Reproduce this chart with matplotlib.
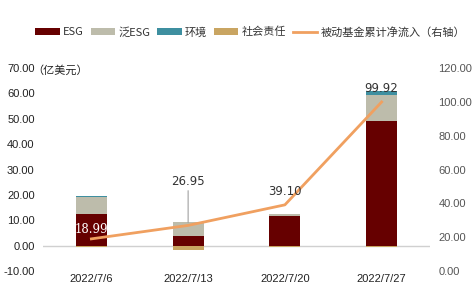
import matplotlib
matplotlib.use("Agg")
import matplotlib.pyplot as plt
import numpy as np

plt.rcParams['font.family'] = ['Noto Sans CJK SC', 'DejaVu Sans']

dates = ["2022/7/6", "2022/7/13", "2022/7/20", "2022/7/27"]
esg = [12.4, 3.8, 11.7, 49.0]
pan_esg = [6.7, 5.5, 0.6, 10.5]
env = [0.4, -0.3, 0.1, 1.5]
social = [-0.5, -1.3, -0.5, -0.5]
cum_flow = [18.99, 26.95, 39.10, 99.92]

c_esg = "#660000"
c_pan = "#BDBCAB"
c_env = "#3E8FA0"
c_soc = "#C9A562"
c_line = "#F0A060"

tick_font = "Liberation Sans"

fig = plt.figure(figsize=(4.75, 2.89), dpi=100)
ax = fig.add_axes([43/475, 1-271/289, (430-43)/475, (271-68)/289])
x = np.arange(len(dates))
w = 0.32

esg_a = np.array(esg); pan_a = np.array(pan_esg); env_a = np.array(env); soc_a = np.array(social)
pos_base = np.zeros(4); neg_base = np.zeros(4)
handles = []
for vals, col, lab in [(esg_a, c_esg, "ESG"), (pan_a, c_pan, "泛ESG"), (env_a, c_env, "环境"), (soc_a, c_soc, "社会责任")]:
    bottoms = np.where(vals >= 0, pos_base, neg_base)
    b = ax.bar(x, vals, w, bottom=bottoms, color=col, label=lab, zorder=2)
    handles.append(b)
    pos_base = pos_base + np.where(vals >= 0, vals, 0)
    neg_base = neg_base + np.where(vals < 0, vals, 0)

ax.set_ylim(-10, 70)
ax.set_yticks(np.arange(-10, 71, 10))
ax.set_yticklabels([f"{v:.2f}" for v in np.arange(-10, 71, 10)], fontsize=8, color="#222222", family=tick_font)
ax.set_xlim(-0.5, 3.5)
ax.set_xticks(x)
ax.set_xticklabels(dates, fontsize=8, color="#222222", family=tick_font)
ax.axhline(0, color="#D0D0D0", lw=1, zorder=1)
for s in ax.spines.values():
    s.set_visible(False)
ax.tick_params(length=0, pad=6)
ax.tick_params(axis='x', pad=2)

ax2 = ax.twinx()
ax2.set_ylim(0, 120)
ax2.set_yticks(np.arange(0, 121, 20))
ax2.set_yticklabels([f"{v:.2f}" for v in np.arange(0, 121, 20)], fontsize=8, color="#555555", family=tick_font)
for s in ax2.spines.values():
    s.set_visible(False)
ax2.tick_params(length=0, pad=6)
ln, = ax2.plot(x, cum_flow, color=c_line, lw=2, label="被动基金累计净流入（右轴）", zorder=3)

# labels
ax2.annotate(f"{cum_flow[0]:.2f}", (x[0], cum_flow[0]), xytext=(0, 2), textcoords="offset points",
             ha="center", va="bottom", fontsize=8.5, color="white", family="DejaVu Serif")
ax2.annotate(f"{cum_flow[1]:.2f}", (x[1], cum_flow[1]), xytext=(0, 27), textcoords="offset points",
             ha="center", va="bottom", fontsize=8.5, color="#333333", family="DejaVu Sans",
             arrowprops=dict(arrowstyle="-", color="#A0A0A0", lw=0.8, shrinkA=0, shrinkB=2))
ax2.annotate(f"{cum_flow[2]:.2f}", (x[2], cum_flow[2]), xytext=(0, 5), textcoords="offset points",
             ha="center", va="bottom", fontsize=8.5, color="#333333", family="DejaVu Sans")
ax2.annotate(f"{cum_flow[3]:.2f}", (x[3], cum_flow[3]), xytext=(0, 5), textcoords="offset points",
             ha="center", va="bottom", fontsize=8.5, color="#333333", family="DejaVu Sans")

fig.text(32/475, 1-70/289, "（亿美元）", fontsize=8, color="#222222", va="center", ha="left")

fig.legend(handles + [ln], ["ESG", "泛ESG", "环境", "社会责任", "被动基金累计净流入（右轴）"],
           loc="center", bbox_to_anchor=(0.527, 1-32/289), ncol=5, frameon=False, fontsize=8,
           handlelength=2.2, handleheight=0.5, columnspacing=0.6, handletextpad=0.3, labelcolor="#333333")

fig.savefig("out.png", dpi=100)
